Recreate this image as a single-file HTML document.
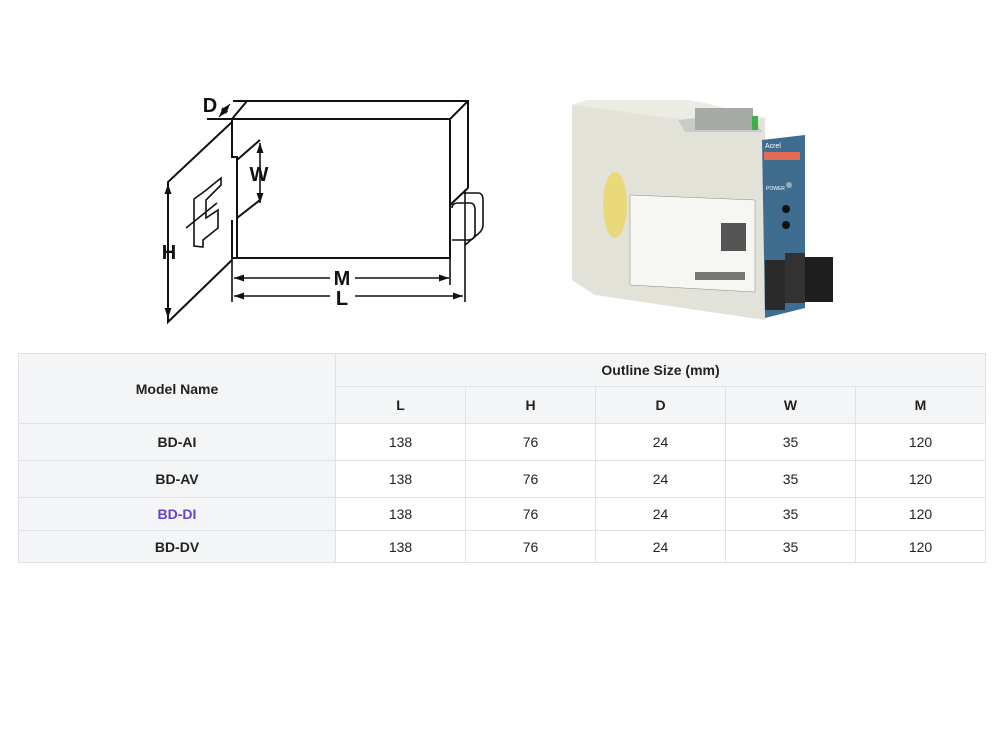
<!DOCTYPE html>
<html><head><meta charset="utf-8"><style>
body{margin:0;background:#fff;width:1000px;height:739px;position:relative;overflow:hidden;font-family:"Liberation Sans",Arial,sans-serif}
table{position:absolute;left:18px;top:353px;border-collapse:collapse;width:967px;table-layout:fixed;font-size:14px;color:#222}
td{border:1px solid #dfe1e5;text-align:center;padding:0}
.g{background:#f4f5f7;font-weight:bold}
</style></head><body>
<svg width="1000" height="350" style="position:absolute;left:0;top:0" fill="none" stroke="#111" stroke-width="2">
<defs><marker id="a" markerWidth="11" markerHeight="10" refX="10" refY="5" orient="auto-start-reverse" markerUnits="userSpaceOnUse"><path d="M0,1.5 L10,5 L0,8.5 Z" fill="#111" stroke="none"/></marker></defs>
<path d="M233,101 H468 V188 M468,101 L450,119 V258 H232 M207,119 H450 M247,101 L232,119 V157 H237 V258 M232,220 V258 M468,188 L450,205"/>
<path d="M232,122 L168,182 V322 L232,260"/>
<path d="M260,140 L237,160 M260,200 L237,218"/>
<path d="M194,199 V246 L203,247 V240 L218,228 V210 L206,218 V200 L221,185 V178 L205,191 Z M186,228 L217,203" stroke-width="1.6"/>
<path d="M452,208 Q452,203 458,203 H470 Q475,203 475,210 V233 Q475,240 468,240 H452 M462,193 H478 Q483,193 483,200 V225 Q483,230 478,234 L465,245" stroke-width="1.6"/>
<path d="M232,258 V302 M450,258 V285 M465,190 V302" stroke-width="1.6"/>
<line x1="168" y1="184" x2="168" y2="318" marker-start="url(#a)" marker-end="url(#a)" stroke-width="1.6"/>
<line x1="260" y1="143" x2="260" y2="203" marker-start="url(#a)" marker-end="url(#a)" stroke-width="1.6"/>
<line x1="234" y1="278" x2="330" y2="278" marker-start="url(#a)" stroke-width="1.6"/><line x1="355" y1="278" x2="449" y2="278" marker-end="url(#a)" stroke-width="1.6"/>
<line x1="234" y1="296" x2="330" y2="296" marker-start="url(#a)" stroke-width="1.6"/><line x1="355" y1="296" x2="463" y2="296" marker-end="url(#a)" stroke-width="1.6"/>
<line x1="219" y1="117" x2="230" y2="104" stroke-width="1.2" marker-start="url(#a)" marker-end="url(#a)"/>
<g fill="#111" stroke="none" font-weight="bold" font-size="20" font-family="Liberation Sans,Arial,sans-serif" text-anchor="middle">
<text x="210" y="112">D</text><text x="259" y="181">W</text><text x="169" y="259">H</text><text x="342" y="285">M</text><text x="342" y="305">L</text></g>
</svg>
<svg width="300" height="260" style="position:absolute;left:560px;top:80px">
<polygon points="12,25 28,20 140,22 205,38 205,240 35,215 12,200" fill="#e2e2d8"/>
<polygon points="12,25 28,20 130,20 205,38 140,42" fill="#ececE4"/>
<polygon points="118,40 190,32 202,52 125,52" fill="#c8ccc8"/>
<rect x="135" y="28" width="58" height="22" fill="#a5aaa6"/>
<rect x="192" y="36" width="6" height="14" fill="#3bb04a"/>
<polygon points="202,60 245,55 245,228 205,238" fill="#3f6d8f"/>
<rect x="204" y="72" width="36" height="8" fill="#e46a55"/>
<text x="205" y="68" font-size="7" fill="#fff" font-family="Liberation Sans">Acrel</text>
<text x="206" y="110" font-size="5" fill="#fff" font-family="Liberation Sans">POWER</text>
<circle cx="229" cy="105" r="3" fill="#9ab"/>
<circle cx="226" cy="129" r="4" fill="#111"/><circle cx="226" cy="145" r="4" fill="#111"/>
<ellipse cx="55" cy="125" rx="12" ry="33" fill="#e9d97a"/>
<polygon points="70,115 195,120 195,212 70,205" fill="#f6f6f2" stroke="#888" stroke-width="0.5"/>
<rect x="161" y="143" width="25" height="28" fill="#555"/>
<rect x="135" y="192" width="50" height="8" fill="#777"/>
<rect x="205" y="180" width="20" height="50" fill="#2a2a2a"/>
<rect x="225" y="173" width="20" height="50" fill="#333"/>
<rect x="245" y="177" width="28" height="45" fill="#1e1e1e"/>
</svg>
<table>
<colgroup><col style="width:317px"><col style="width:130px"><col style="width:130px"><col style="width:130px"><col style="width:130px"><col style="width:130px"></colgroup>
<tr style="height:33px"><td class="g" rowspan="2">Model Name</td><td class="g" colspan="5">Outline Size (mm)</td></tr>
<tr style="height:37px"><td class="g">L</td><td class="g">H</td><td class="g">D</td><td class="g">W</td><td class="g">M</td></tr>
<tr style="height:37px"><td class="g">BD-AI</td><td>138</td><td>76</td><td>24</td><td>35</td><td>120</td></tr>
<tr style="height:37px"><td class="g">BD-AV</td><td>138</td><td>76</td><td>24</td><td>35</td><td>120</td></tr>
<tr style="height:33px"><td class="g" style="color:#6a3fd0">BD-DI</td><td>138</td><td>76</td><td>24</td><td>35</td><td>120</td></tr>
<tr style="height:32px"><td class="g">BD-DV</td><td>138</td><td>76</td><td>24</td><td>35</td><td>120</td></tr>
</table>
</body></html>
